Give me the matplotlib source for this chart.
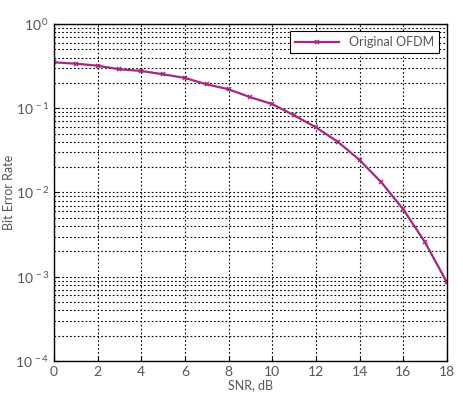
import matplotlib
matplotlib.use("Agg")
import matplotlib.pyplot as plt
import numpy as np

# SNR values (dB) and measured bit error rates
snr_db = [0, 1, 2, 3, 4, 5, 6, 7, 8, 9, 10, 11, 12, 13, 14, 15, 16, 17, 18]
ber_ofdm = [0.351, 0.338, 0.320, 0.290, 0.277, 0.253, 0.229, 0.192, 0.168,
            0.135, 0.112, 0.0824, 0.0594, 0.0401, 0.0243, 0.0132, 0.00632,
            0.00257, 0.000859]
x_ticks = [0, 2, 4, 6, 8, 10, 12, 14, 16, 18]
y_ticks = [1e-4, 1e-3, 1e-2, 1e-1, 1e0]
y_labels = [r"$10^{\,-4}$", r"$10^{\,-3}$", r"$10^{\,-2}$", r"$10^{\,-1}$", r"$10^{\,0}$"]

plt.rcParams["font.family"] = ["Lato", "DejaVu Sans"]
plt.rcParams["mathtext.fontset"] = "custom"
plt.rcParams["mathtext.rm"] = "Lato"
plt.rcParams["mathtext.it"] = "Lato"

fig = plt.figure(figsize=(4.64, 3.98), dpi=100)
ax = fig.add_axes([0.1164, 0.093, 0.8466, 0.8467])

ax.semilogy(snr_db, ber_ofdm, color="#a3297f", linewidth=1.6, marker="x",
            markersize=3.5, markeredgewidth=1.1, label="Original OFDM")

ax.set_xlim(0, 18)
ax.set_ylim(1e-4, 1)
ax.set_xticks(x_ticks)
ax.set_yticks(y_ticks)
ax.set_yticklabels(y_labels)

# matlab style dotted grid
ax.grid(True, which="major", axis="both", linestyle=(0, (1.5, 2)), color="black", linewidth=0.8)
ax.grid(True, which="minor", axis="y", linestyle=(0, (1.5, 2)), color="black", linewidth=0.8)
ax.tick_params(which="both", direction="in", labelsize=10, labelcolor="#555555",
               top=False, right=False)
ax.tick_params(which="minor", length=0)

for s in ax.spines.values():
    s.set_linewidth(1.0)

ax.set_xlabel("SNR, dB", fontsize=9, color="#555555", labelpad=1)
ax.set_ylabel("Bit Error Rate", fontsize=9, color="#555555")
ax.yaxis.set_label_coords(-0.1, 0.5)

leg = ax.legend(loc="upper right", fontsize=9, fancybox=False, framealpha=1,
                edgecolor="black", borderaxespad=0.6, handlelength=3.5)
leg.get_frame().set_linewidth(0.8)
for t in leg.get_texts():
    t.set_color("#555555")

fig.savefig("out.png", dpi=100)
